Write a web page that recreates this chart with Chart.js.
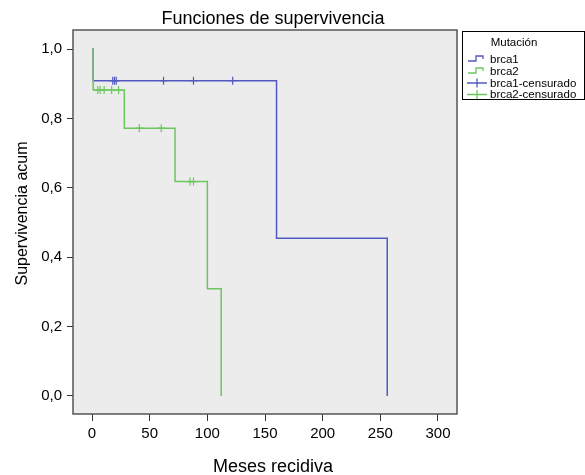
<!DOCTYPE html>
<html>
<head>
<meta charset="utf-8">
<script src="https://cdn.jsdelivr.net/npm/chart.js@4/dist/chart.umd.min.js"></script>
<style>
  html, body { margin: 0; padding: 0; background: #ffffff; }
  #wrap { width: 585px; height: 475px; }
</style>
</head>
<body>
<div id="wrap"><canvas id="c" width="585" height="475"></canvas></div>
<script>
// ---- data ----
const chartTitle = "Funciones de supervivencia";
const xAxisTitle = "Meses recidiva";
const yAxisTitle = "Supervivencia acum";
const legendTitle = "Mutación";

const xTicks = [0, 50, 100, 150, 200, 250, 300];
const yTicks = [0, 0.2, 0.4, 0.6, 0.8, 1.0];

const brca1Times = [0, 1, 160, 256];
const brca1Surv  = [1, 0.909, 0.455, 0];
const brca2Times = [0, 1, 28, 72, 100, 112];
const brca2Surv  = [1, 0.882, 0.772, 0.618, 0.309, 0];

const brca1CensTimes = [18, 19.5, 21, 62, 88, 122];
const brca1CensSurv  = [0.909, 0.909, 0.909, 0.909, 0.909, 0.909];
const brca2CensTimes = [5, 7, 10.5, 17, 23, 41, 60, 85, 88];
const brca2CensSurv  = [0.882, 0.882, 0.882, 0.882, 0.882, 0.772, 0.772, 0.618, 0.618];

const seriesLabels = ["brca1", "brca2", "brca1-censurado", "brca2-censurado"];

// ---- styles ----
const BLUE = "#5258c2";
const GREEN = "#6cc65e";
const FONT = "'Liberation Sans', Arial, Helvetica, sans-serif";

const toXY = (xs, ys) => xs.map((x, i) => ({ x: x, y: ys[i] }));

const frameAndText = {
  id: "frameAndText",
  beforeDatasetsDraw(chart) {
    const { ctx, chartArea: a } = chart;
    ctx.save();
    ctx.fillStyle = "#ececec";
    ctx.fillRect(a.left, a.top, a.right - a.left, a.bottom - a.top);
    ctx.restore();
  },
  afterDraw(chart) {
    const { ctx, chartArea: a } = chart;
    ctx.save();
    // frame
    ctx.strokeStyle = "#555555";
    ctx.lineWidth = 1.5;
    ctx.strokeRect(a.left, a.top, a.right - a.left, a.bottom - a.top);
    // title
    ctx.fillStyle = "#000";
    ctx.textAlign = "center";
    ctx.textBaseline = "alphabetic";
    ctx.font = "18px " + FONT;
    ctx.fillText(chartTitle, 273, 24);
    // x title
    ctx.fillText(xAxisTitle, 273, 472);
    // y title
    ctx.save();
    ctx.translate(27, 213.5);
    ctx.rotate(-Math.PI / 2);
    ctx.font = "16px " + FONT;
    ctx.fillText(yAxisTitle, 0, 0);
    ctx.restore();

    // legend box
    ctx.strokeStyle = "#000";
    ctx.lineWidth = 1;
    ctx.strokeRect(462.5, 31.5, 122, 68);
    ctx.font = "11.5px " + FONT;
    ctx.textAlign = "center";
    ctx.textBaseline = "middle";
    ctx.fillStyle = "#000";
    ctx.fillText(legendTitle, 514, 43);
    const rows = [59, 71, 83, 94.5];
    const colors = [BLUE, GREEN, BLUE, GREEN];
    ctx.textAlign = "left";
    chart.data.datasets.forEach((ds, i) => {
      const y = rows[i];
      ctx.strokeStyle = colors[i];
      ctx.lineWidth = 1.3;
      ctx.beginPath();
      if (i < 2) {
        ctx.moveTo(468, y + 2);
        ctx.lineTo(476, y + 2);
        ctx.lineTo(476, y - 3);
        ctx.lineTo(483, y - 3);
        ctx.lineTo(483, y);
      } else {
        ctx.moveTo(467, y);
        ctx.lineTo(487, y);
        ctx.moveTo(477, y - 4.5);
        ctx.lineTo(477, y + 4.5);
      }
      ctx.stroke();
      ctx.fillStyle = "#000";
      ctx.fillText(ds.label, 490, y + 0.5);
    });
    ctx.restore();
  }
};

const commaFmt = v => v.toFixed(1).replace(".", ",");

new Chart(document.getElementById("c"), {
  type: "line",
  data: {
    datasets: [
      { label: seriesLabels[0], data: toXY(brca1Times, brca1Surv), borderColor: BLUE, borderWidth: 1.5,
        stepped: "before", pointRadius: 0, fill: false, order: 3 },
      { label: seriesLabels[1], data: toXY(brca2Times, brca2Surv), borderColor: GREEN, borderWidth: 1.5,
        stepped: "before", pointRadius: 0, fill: false, order: 1 },
      { label: seriesLabels[2], data: toXY(brca1CensTimes, brca1CensSurv), borderColor: BLUE, backgroundColor: BLUE,
        showLine: false, pointStyle: "cross", pointRadius: 4, pointBorderWidth: 1.2, order: 2 },
      { label: seriesLabels[3], data: toXY(brca2CensTimes, brca2CensSurv), borderColor: GREEN, backgroundColor: GREEN,
        showLine: false, pointStyle: "cross", pointRadius: 4, pointBorderWidth: 1.2, order: 0 }
    ]
  },
  options: {
    responsive: false,
    animation: false,
    devicePixelRatio: 1,
    layout: { padding: { top: 30, right: 128, left: 0, bottom: 0 } },
    plugins: { legend: { display: false }, title: { display: false }, tooltip: { enabled: false } },
    scales: {
      x: {
        type: "linear",
        min: -16.5,
        max: 316.5,
        afterBuildTicks: s => { s.ticks = xTicks.map(v => ({ value: v })); },
        afterFit: s => { s.height = 61; },
        grid: { drawOnChartArea: false, drawTicks: true, tickLength: 7, color: "#333" },
        border: { display: false },
        ticks: { font: { size: 15, family: FONT }, color: "#000", padding: 4, maxRotation: 0 }
      },
      y: {
        type: "linear",
        min: -0.052,
        max: 1.055,
        afterBuildTicks: s => { s.ticks = yTicks.map(v => ({ value: v })); },
        afterFit: s => { s.width = 73; },
        grid: { drawOnChartArea: false, drawTicks: true, tickLength: 6, color: "#333" },
        border: { display: false },
        ticks: { font: { size: 15, family: FONT }, color: "#000", padding: 5,
                 callback: v => commaFmt(v) }
      }
    }
  },
  plugins: [frameAndText]
});
</script>
</body>
</html>
